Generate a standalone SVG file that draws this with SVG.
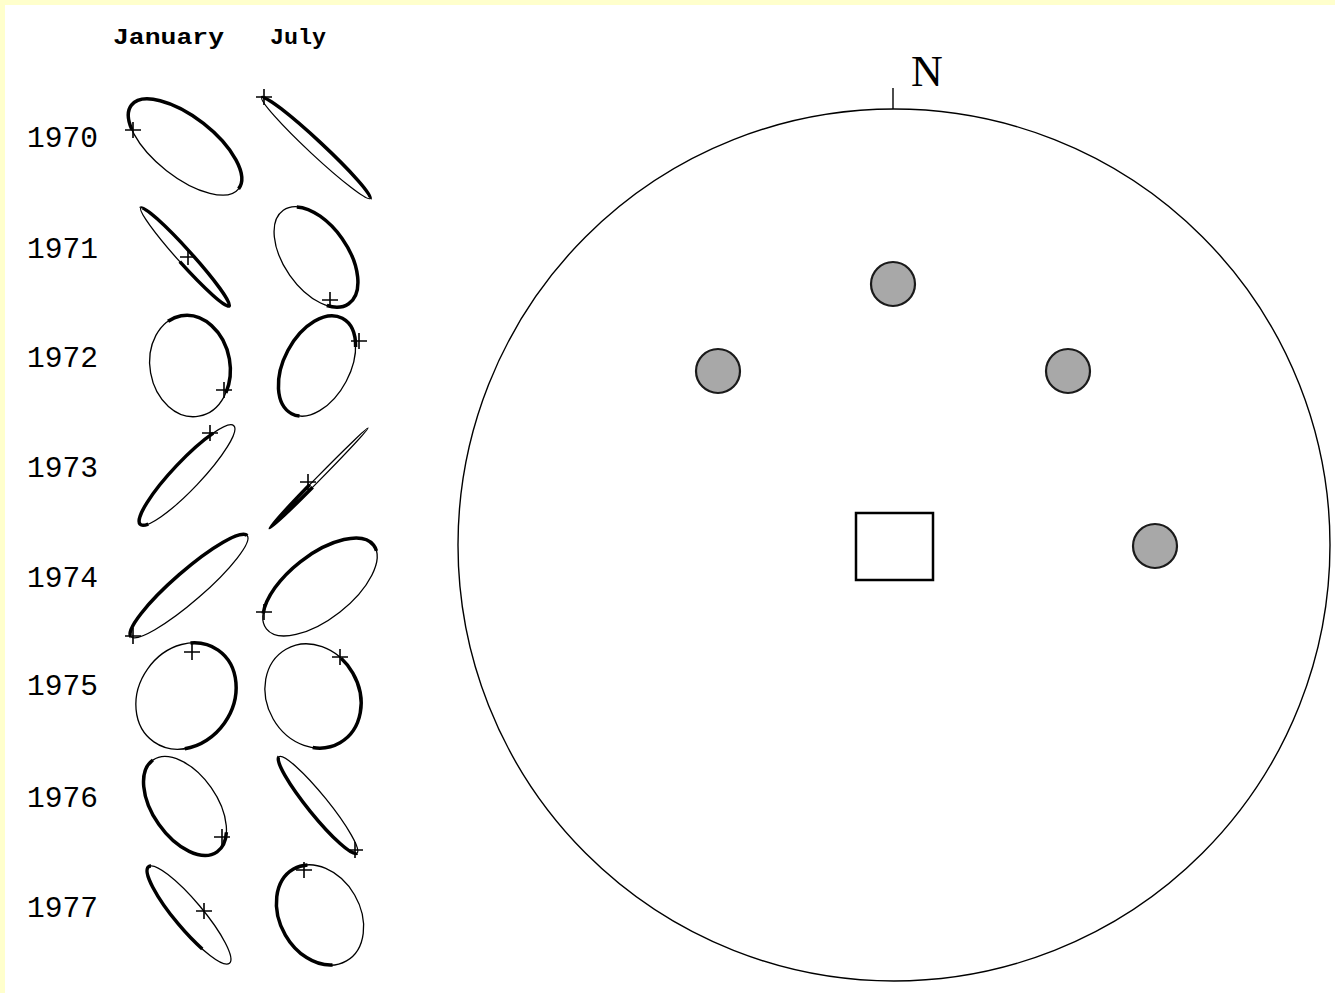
<svg xmlns="http://www.w3.org/2000/svg" xmlns:xlink="http://www.w3.org/1999/xlink" width="1335" height="993" viewBox="0 0 1335 993">
<style>
.thin{fill:none;stroke:#000;stroke-width:1.3}
.thick{fill:none;stroke:#000;stroke-width:3.5}
.plus{fill:none;stroke:#000;stroke-width:1.6}
.yr{font-family:"Liberation Mono","DejaVu Sans Mono",monospace;font-size:29px;fill:#000}
.hd{font-family:"Liberation Mono","DejaVu Sans Mono",monospace;font-size:22px;font-weight:bold;fill:#000}
.dot{fill:#a8a8a8;stroke:#1a1a1a;stroke-width:2.2}
</style>
<defs>
<path id="plus" class="plus" d="M-8 0H8M0 -8V8"/>
</defs>
<rect width="1335" height="993" fill="#ffffcc"/>
<rect x="5" y="5" width="1330" height="988" fill="#fff"/>

<g id="headers">
<text class="hd" x="113" y="44" textLength="111" lengthAdjust="spacingAndGlyphs">January</text>
<text class="hd" x="270" y="44" textLength="56" lengthAdjust="spacingAndGlyphs">July</text>
</g>
<g id="years">
<text class="yr" x="27" y="147" textLength="71" lengthAdjust="spacingAndGlyphs">1970</text>
<text class="yr" x="27" y="258" textLength="71" lengthAdjust="spacingAndGlyphs">1971</text>
<text class="yr" x="27" y="367" textLength="71" lengthAdjust="spacingAndGlyphs">1972</text>
<text class="yr" x="27" y="477" textLength="71" lengthAdjust="spacingAndGlyphs">1973</text>
<text class="yr" x="27" y="587" textLength="71" lengthAdjust="spacingAndGlyphs">1974</text>
<text class="yr" x="27" y="695" textLength="71" lengthAdjust="spacingAndGlyphs">1975</text>
<text class="yr" x="27" y="807" textLength="71" lengthAdjust="spacingAndGlyphs">1976</text>
<text class="yr" x="27" y="917" textLength="71" lengthAdjust="spacingAndGlyphs">1977</text>
</g>

<g id="jan1970"><g transform="translate(185,147) rotate(38)"><ellipse class="thin" rx="68" ry="30"/><ellipse class="thick" rx="68" ry="30" pathLength="100" stroke-dasharray="58 42" stroke-dashoffset="58"/></g><use href="#plus" x="133" y="130"/></g>
<g id="jul1970"><g transform="translate(316,148) rotate(43)"><ellipse class="thin" rx="74" ry="7"/><ellipse class="thick" rx="74" ry="7" pathLength="100" stroke-dasharray="50 50" stroke-dashoffset="50"/></g><use href="#plus" x="264" y="97"/></g>
<g id="jan1971"><g transform="translate(185,257) rotate(48)"><ellipse class="thin" rx="66" ry="7"/><ellipse class="thick" rx="66" ry="7" pathLength="100" stroke-dasharray="75 25" stroke-dashoffset="50"/></g><use href="#plus" x="188" y="257"/></g>
<g id="jul1971"><g transform="translate(316,257) rotate(55)"><ellipse class="thin" rx="57" ry="32"/><ellipse class="thick" rx="57" ry="32" pathLength="100" stroke-dasharray="53 47" stroke-dashoffset="45"/></g><use href="#plus" x="330" y="300"/></g>
<g id="jan1972"><g transform="translate(190,366) rotate(80)"><ellipse class="thin" rx="51" ry="40"/><ellipse class="thick" rx="51" ry="40" pathLength="100" stroke-dasharray="42 58" stroke-dashoffset="55"/></g><use href="#plus" x="224" y="390"/></g>
<g id="jul1972"><g transform="translate(317,366) rotate(-62)"><ellipse class="thin" rx="54" ry="33"/><ellipse class="thick" rx="54" ry="33" pathLength="100" stroke-dasharray="65 35" stroke-dashoffset="53"/></g><use href="#plus" x="359" y="341"/></g>
<g id="jan1973"><g transform="translate(187,475) rotate(-46.5)"><ellipse class="thin" rx="68" ry="14"/><ellipse class="thick" rx="68" ry="14" pathLength="100" stroke-dasharray="45 55" stroke-dashoffset="53"/></g><use href="#plus" x="210" y="433"/></g>
<g id="jul1973"><g transform="translate(319,478) rotate(-45.5)"><ellipse class="thin" rx="70" ry="2"/><ellipse class="thick" rx="70" ry="2" pathLength="100" stroke-dasharray="42 58" stroke-dashoffset="71"/></g><use href="#plus" x="308" y="482"/></g>
<g id="jan1974"><g transform="translate(189,586) rotate(-41)"><ellipse class="thin" rx="77" ry="15"/><ellipse class="thick" rx="77" ry="15" pathLength="100" stroke-dasharray="50 50" stroke-dashoffset="50"/></g><use href="#plus" x="133" y="636"/></g>
<g id="jul1974"><g transform="translate(320,587) rotate(-38)"><ellipse class="thin" rx="68" ry="32"/><ellipse class="thick" rx="68" ry="32" pathLength="100" stroke-dasharray="47 53" stroke-dashoffset="45"/></g><use href="#plus" x="264" y="612"/></g>
<g id="jan1975"><g transform="translate(186,696) rotate(-55)"><ellipse class="thin" rx="56" ry="47"/><ellipse class="thick" rx="56" ry="47" pathLength="100" stroke-dasharray="49 51" stroke-dashoffset="9"/></g><use href="#plus" x="192" y="652"/></g>
<g id="jul1975"><g transform="translate(313,696) rotate(60)"><ellipse class="thin" rx="54" ry="46"/><ellipse class="thick" rx="54" ry="46" pathLength="100" stroke-dasharray="40 60" stroke-dashoffset="31"/></g><use href="#plus" x="340" y="657"/></g>
<g id="jan1976"><g transform="translate(185,806) rotate(55)"><ellipse class="thin" rx="56" ry="32"/><ellipse class="thick" rx="56" ry="32" pathLength="100" stroke-dasharray="58 42" stroke-dashoffset="8"/></g><use href="#plus" x="222" y="837"/></g>
<g id="jul1976"><g transform="translate(318,805) rotate(51)"><ellipse class="thin" rx="62" ry="10"/><ellipse class="thick" rx="62" ry="10" pathLength="100" stroke-dasharray="50 50" stroke-dashoffset="0"/></g><use href="#plus" x="355" y="850"/></g>
<g id="jan1977"><g transform="translate(189,915) rotate(50)"><ellipse class="thin" rx="63" ry="14"/><ellipse class="thick" rx="63" ry="14" pathLength="100" stroke-dasharray="39 61" stroke-dashoffset="88"/></g><use href="#plus" x="204" y="911"/></g>
<g id="jul1977"><g transform="translate(320,915) rotate(60)"><ellipse class="thin" rx="53" ry="40"/><ellipse class="thick" rx="53" ry="40" pathLength="100" stroke-dasharray="50 50" stroke-dashoffset="95"/></g><use href="#plus" x="304" y="870"/></g>

<g id="compass">
<circle cx="894" cy="545" r="436" fill="none" stroke="#000" stroke-width="1.4"/>
<line x1="893" y1="88" x2="893" y2="109" stroke="#000" stroke-width="1.4"/>
<text x="927" y="86" text-anchor="middle" font-family="Liberation Serif, serif" font-size="44" fill="#000">N</text>
</g>
<g id="dot-n"><circle class="dot" cx="893" cy="284" r="22"/></g>
<g id="dot-w"><circle class="dot" cx="718" cy="371" r="22"/></g>
<g id="dot-ne"><circle class="dot" cx="1068" cy="371" r="22"/></g>
<g id="dot-e"><circle class="dot" cx="1155" cy="546" r="22"/></g>
<g id="square"><rect x="856" y="513" width="77" height="67" fill="#fff" stroke="#000" stroke-width="2.5"/></g>
</svg>
